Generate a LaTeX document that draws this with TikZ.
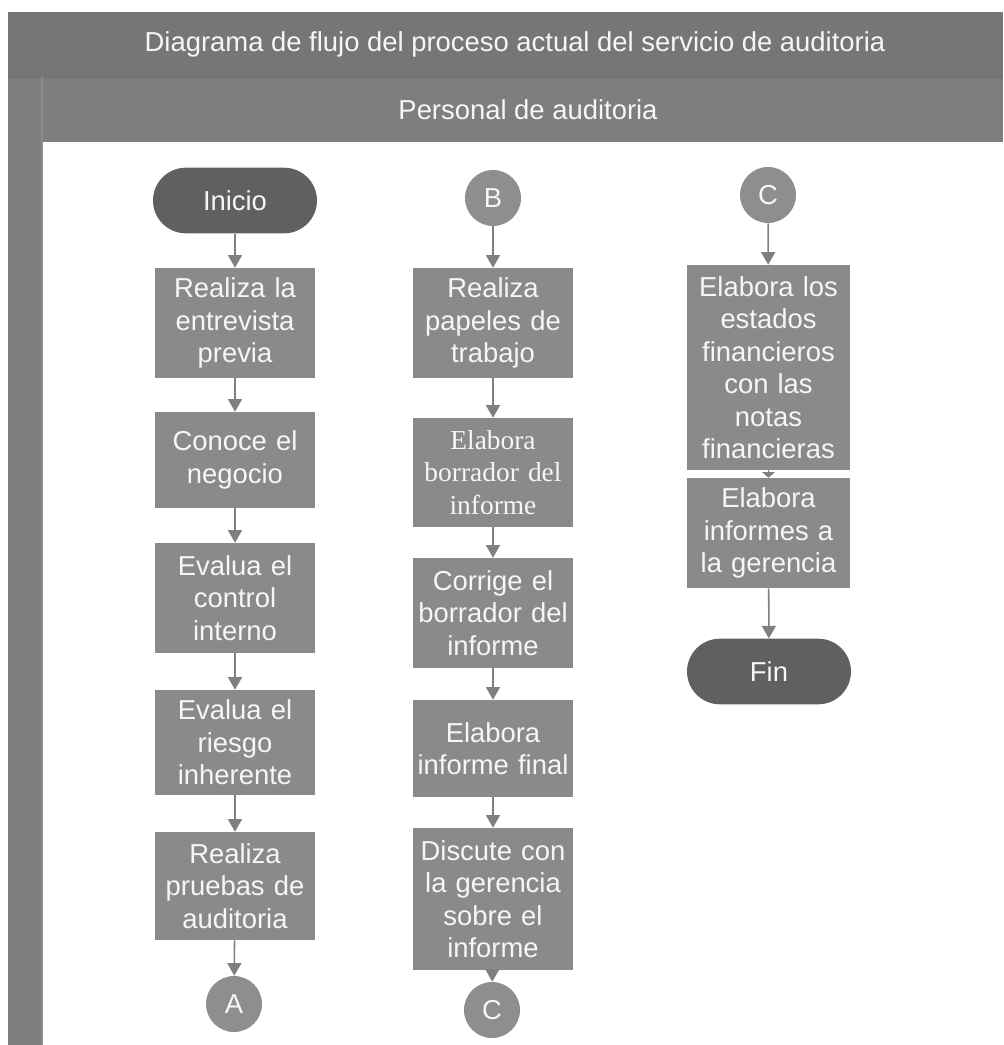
\documentclass[tikz,border=0pt]{standalone}
\usepackage{fontspec}
\setmainfont{Liberation Sans}
\newfontfamily\tnr{Liberation Serif}
\usepackage{tikz}
\usetikzlibrary{arrows.meta}

\definecolor{cabecera}{RGB}{118,118,118}
\definecolor{carril}{RGB}{126,126,126}
\definecolor{caja}{RGB}{138,138,138}
\definecolor{terminal}{RGB}{96,96,96}
\definecolor{conector}{RGB}{142,142,142}
\definecolor{flechagris}{RGB}{128,128,128}
\definecolor{letra}{RGB}{246,246,246}

\begin{document}
\begin{tikzpicture}[
  every node/.style={font=\fontsize{19.5}{23.1}\selectfont},
  paso/.style={rectangle, fill=caja, text=letra, minimum width=4cm,
               text width=3.8cm, inner sep=0pt, align=center},
  extremo/.style={rectangle, rounded corners=0.82cm, fill=terminal, text=letra,
                  minimum width=4.1cm, minimum height=1.64cm},
  enlace/.style={circle, fill=conector, text=letra, minimum size=1.4cm, inner sep=0pt},
  flecha/.style={draw=flechagris, line width=1.1pt,
                 -{Triangle[length=9pt,width=10pt]}}
]
  \useasboundingbox (0,0) rectangle (25.075,-26.125);

  % marco del carril
  \fill[cabecera] (0.2,-0.3) rectangle (25.075,-1.925);
  \fill[carril]   (0.2,-1.925) rectangle (25.075,-3.55);
  \fill[carril]   (0.2,-3.55) rectangle (1.05,-26.125);
  \draw[black!55, line width=1pt] (0.2,-1.925) -- (25.075,-1.925);
  \draw[black!45, line width=0.8pt] (1.05,-1.925) -- (1.05,-26.125);

  \node[text=letra] (titulo)   at (12.875,-1.1)  {Diagrama de flujo del proceso actual del servicio de auditoria};
  \node[text=letra] (personal) at (13.2,-2.74)   {Personal de auditoria};

  % columna 1
  \node[extremo] (inicio) at (5.875,-5.0125) {Inicio};
  \node[paso, minimum height=2.75cm]  (entrevista) at (5.875,-8.075)   {Realiza la\\entrevista\\previa};
  \node[paso, minimum height=2.4cm]   (negocio)    at (5.875,-11.5)    {Conoce el\\negocio};
  \node[paso, minimum height=2.75cm]  (control)    at (5.875,-14.95)   {Evalua el\\control\\interno};
  \node[paso, minimum height=2.625cm] (riesgo)     at (5.875,-18.5625) {Evalua el\\riesgo\\inherente};
  \node[paso, minimum height=2.7cm]   (pruebas)    at (5.875,-22.15)   {Realiza\\pruebas de\\auditoria};
  \node[enlace] (conA) at (5.85,-25.1) {A};

  % columna 2
  \node[enlace] (conB) at (12.325,-4.95) {B};
  \node[paso, minimum height=2.75cm]  (papeles)  at (12.325,-8.075)   {Realiza\\papeles de\\trabajo};
  \node[paso, minimum height=2.725cm, font=\tnr\fontsize{19.5}{23.1}\selectfont]
                                      (borrador) at (12.325,-11.8125) {Elabora\\borrador del\\informe};
  \node[paso, minimum height=2.75cm]  (corrige)  at (12.325,-15.325)  {Corrige el\\borrador del\\informe};
  \node[paso, minimum height=2.425cm] (final)    at (12.325,-18.7125) {Elabora\\informe final};
  \node[paso, minimum height=3.55cm]  (discute)  at (12.325,-22.475)  {Discute con\\la gerencia\\sobre el\\informe};
  \node[enlace] (conC) at (12.3,-25.25) {C};

  % columna 3
  \node[enlace] (conCsup) at (19.2,-4.875) {C};
  \node[paso, minimum width=4.075cm, minimum height=5.125cm] (estados)  at (19.2125,-9.1875) {Elabora los\\estados\\financieros\\con las\\notas\\financieras};
  \node[paso, minimum width=4.075cm, minimum height=2.75cm]  (informes) at (19.2125,-13.325) {Elabora\\informes a\\la gerencia};
  \node[extremo] (fin) at (19.225,-16.7875) {Fin};

  \draw[flecha] (inicio)     -- (entrevista);
  \draw[flecha] (entrevista) -- (negocio);
  \draw[flecha] (negocio)    -- (control);
  \draw[flecha] (control)    -- (riesgo);
  \draw[flecha] (riesgo)     -- (pruebas);
  \draw[flecha] (pruebas)    -- (conA);

  \draw[flecha] (conB)     -- (papeles);
  \draw[flecha] (papeles)  -- (borrador);
  \draw[flecha] (borrador) -- (corrige);
  \draw[flecha] (corrige)  -- (final);
  \draw[flecha] (final)    -- (discute);
  \draw[flecha] (discute)  -- (conC);

  \draw[flecha] (conCsup)  -- (estados);
  \draw[flecha, -{Triangle[length=4pt,width=9pt]}] (estados) -- (informes);
  \draw[flecha] (informes) -- (fin);
\end{tikzpicture}
\end{document}
